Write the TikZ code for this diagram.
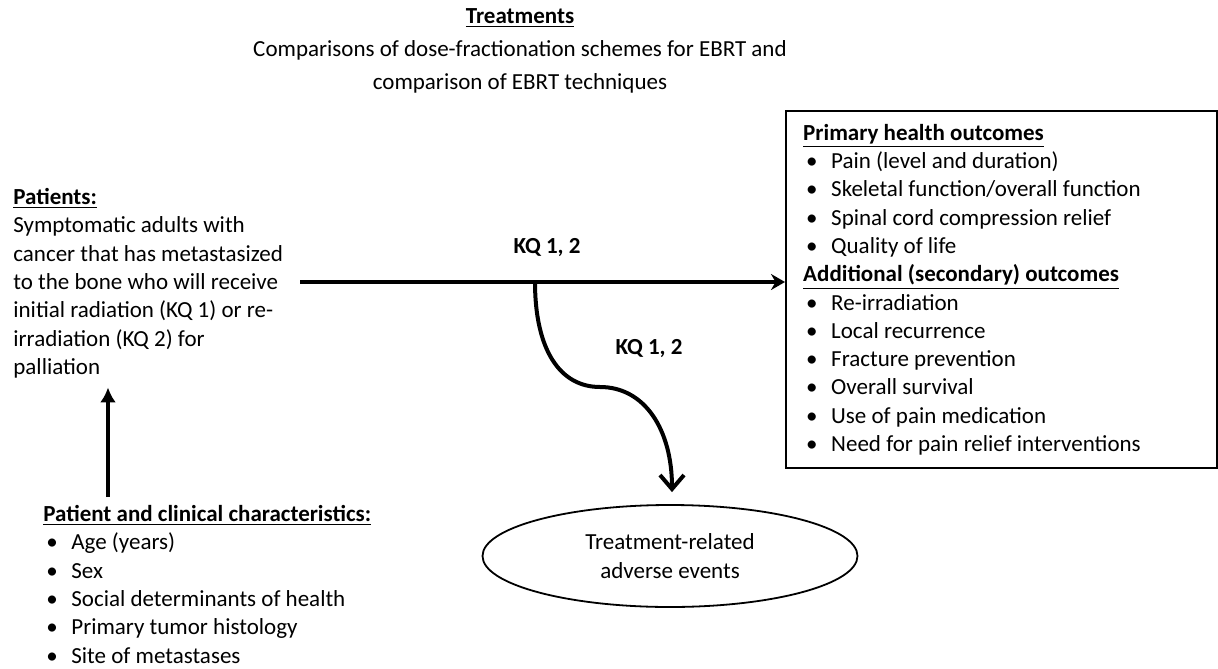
\documentclass[tikz,border=0pt]{standalone}
\usepackage{fontspec}
\setmainfont{Carlito}
\usepackage{tikz}
\usetikzlibrary{arrows.meta,shapes.geometric,positioning}
\tikzset{
  basetext/.style={inner sep=0pt,align=flush left,
                   font=\fontsize{11.5}{14.15}\selectfont},
  titletext/.style={basetext,align=center},
  outbox/.style={basetext,draw=black,line width=1.2pt,anchor=north west,
                 minimum width=215.5pt,minimum height=178.5pt,
                 text width=198.5pt,inner xsep=8.5pt},
  aenode/.style={ellipse,draw=black,line width=0.9pt,inner sep=0pt,
                 minimum width=187.5pt,minimum height=51pt,align=center,
                 font=\fontsize{11.5}{14.15}\selectfont},
  kqlabel/.style={inner sep=0pt,font=\fontsize{11.5}{14.15}\selectfont\bfseries},
  harr/.style={-{Stealth[length=7pt,width=8pt]},line width=2pt},
  curvarr/.style={-{Straight Barb[length=7pt,width=12pt]},line width=2pt},
  uparr/.style={-{Latex[length=7.5pt,width=8pt]},line width=2pt}
}
\newcommand{\hdr}[1]{\underline{\textbf{#1}}}
\newcommand{\bitem}[1]{\makebox[14pt][l]{\hspace{1.5pt}\textbullet}#1}

\begin{document}
\begin{tikzpicture}[x=0.5pt,y=-0.5pt]
  \useasboundingbox (0,0) rectangle (1218,668);
  \node[titletext,anchor=north] (treat) at (520,8)
      {\hdr{Treatments}\\[2.5pt]
       Comparisons of dose-fractionation schemes for EBRT and\\[2.5pt]
       comparison of EBRT techniques};
  \node[basetext,anchor=north west] (pat) at (13,188)
      {\hdr{Patients:}\\
       Symptomatic adults with\\
       cancer that has metastasized\\
       to the bone who will receive\\
       initial radiation (KQ 1) or re-\\
       irradiation (KQ 2) for\\
       palliation};
  \node[outbox] (outc) at (785,110)
      {\hdr{Primary health outcomes}\\
       \bitem{Pain (level and duration)}\\
       \bitem{Skeletal function/overall function}\\
       \bitem{Spinal cord compression relief}\\
       \bitem{Quality of life}\\
       \hdr{Additional (secondary) outcomes}\\
       \bitem{Re-irradiation}\\
       \bitem{Local recurrence}\\
       \bitem{Fracture prevention}\\
       \bitem{Overall survival}\\
       \bitem{Use of pain medication}\\
       \bitem{Need for pain relief interventions}};
  \node[basetext,anchor=north west] (chars) at (43,505)
      {\hdr{Patient and clinical characteristics:}\\
       \bitem{Age (years)}\\
       \bitem{Sex}\\
       \bitem{Social determinants of health}\\
       \bitem{Primary tumor histology}\\
       \bitem{Site of metastases}};
  \node[aenode] (ae) at (670,556) {Treatment-related\\adverse events};
  \node[kqlabel] (kqa) at (547,248) {KQ 1, 2};
  \node[kqlabel] (kqb) at (649,349) {KQ 1, 2};

  % connectors
  \coordinate (hstart) at (300,282);
  \coordinate (kqsplit) at (535,282);
  \coordinate (aetip) at ([shift={(2,-12)}]ae.north);
  \draw[harr] (hstart) -- (hstart -| outc.west);
  \draw[curvarr] (kqsplit) .. controls (535,350) and (560,387) .. (600,387)
      .. controls (645,387) and (672,430) .. (aetip);
  \draw[uparr] ([xshift=32.5pt,yshift=4pt]chars.north west)
      -- ([xshift=47.5pt,yshift=-4.5pt]pat.south west);
\end{tikzpicture}
\end{document}
